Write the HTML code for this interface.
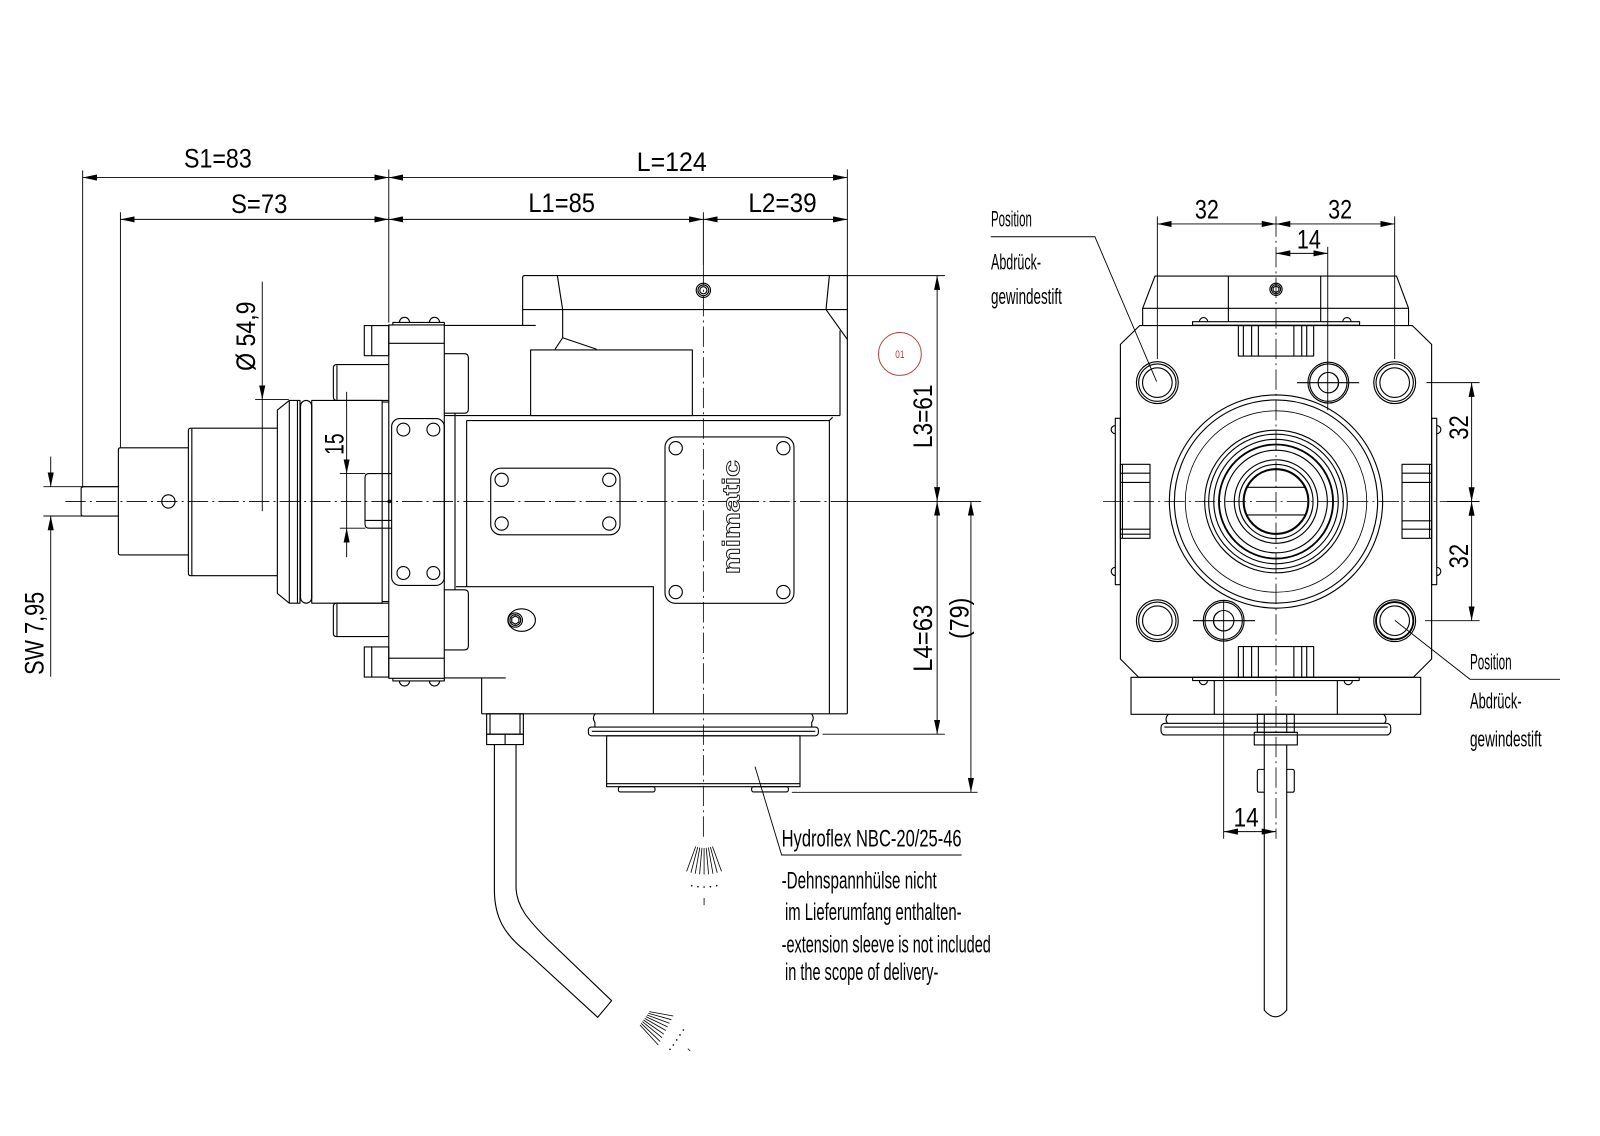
<!DOCTYPE html>
<html><head><meta charset="utf-8"><style>
html,body{margin:0;padding:0;background:#fff;}
svg{display:block}
text{font-family:"Liberation Sans",sans-serif;fill:#000;stroke:none}
</style></head><body>
<svg width="1600" height="1136" viewBox="0 0 1568 1113.3" xmlns="http://www.w3.org/2000/svg">
<defs>
<marker id="ar" viewBox="0 0 14 6" refX="14" refY="3" markerWidth="14" markerHeight="6" markerUnits="userSpaceOnUse" orient="auto-start-reverse"><path d="M0,0L14,3L0,6z" fill="#000" stroke="none"/></marker>
</defs>
<rect x="0" y="0" width="1568" height="1113.3" fill="#fff"/>

<!-- ============ DIMENSION LINES ============ -->
<g fill="none" stroke="#000" stroke-width="0.9">
<g marker-start="url(#ar)" marker-end="url(#ar)">
<line x1="81" y1="174" x2="381" y2="174"/>
<line x1="381" y1="174" x2="830.4" y2="174"/>
<line x1="118" y1="215" x2="381" y2="215"/>
<line x1="381" y1="215" x2="689.3" y2="215"/>
<line x1="689.3" y1="215" x2="830.4" y2="215"/>
<line x1="918.4" y1="270.1" x2="918.4" y2="491.4"/>
<line x1="918.4" y1="491.4" x2="918.4" y2="719.5"/>
<line x1="951.5" y1="491.4" x2="951.5" y2="776.5"/>
<line x1="1134.2" y1="219.5" x2="1250.5" y2="219.5"/>
<line x1="1250.5" y1="219.5" x2="1366.8" y2="219.5"/>
<line x1="1250.5" y1="248.3" x2="1301.2" y2="248.3"/>
<line x1="1442.2" y1="375" x2="1442.2" y2="491.5"/>
<line x1="1442.2" y1="491.5" x2="1442.2" y2="608.3"/>
<line x1="1199.2" y1="815" x2="1250.5" y2="815"/>
</g>
<!-- single arrows -->
<line x1="257" y1="276" x2="257" y2="391.6" marker-end="url(#ar)"/>
<line x1="257" y1="391.6" x2="257" y2="501"/>
<line x1="339.7" y1="384" x2="339.7" y2="464.1" marker-end="url(#ar)"/>
<line x1="339.7" y1="546" x2="339.7" y2="517.6" marker-end="url(#ar)"/>
<line x1="339.7" y1="464.1" x2="339.7" y2="517.6"/>
<line x1="49.7" y1="447.5" x2="49.7" y2="477" marker-end="url(#ar)"/>
<line x1="49.7" y1="663.2" x2="49.7" y2="505.7" marker-end="url(#ar)"/>
<!-- extension lines -->
<line x1="81" y1="167" x2="81" y2="478"/>
<line x1="118" y1="208" x2="118" y2="439"/>
<line x1="381" y1="166" x2="381" y2="316"/>
<line x1="689.3" y1="208" x2="689.3" y2="260"/>
<line x1="830.4" y1="166" x2="830.4" y2="270"/>
<line x1="250" y1="391.6" x2="283" y2="391.6"/>
<line x1="333" y1="464.1" x2="358" y2="464.1"/>
<line x1="333" y1="517.6" x2="358" y2="517.6"/>
<line x1="42.5" y1="477" x2="116" y2="477"/>
<line x1="42.5" y1="505.7" x2="116" y2="505.7"/>
<line x1="830.4" y1="270.1" x2="926" y2="270.1"/>
<line x1="830.4" y1="491.4" x2="961.6" y2="491.4"/>
<line x1="806" y1="719.5" x2="926" y2="719.5"/>
<line x1="776" y1="776.5" x2="958" y2="776.5"/>
<line x1="1134.2" y1="212" x2="1134.2" y2="352"/>
<line x1="1366.8" y1="212" x2="1366.8" y2="352"/>
<line x1="1301.2" y1="242" x2="1301.2" y2="402"/>
<line x1="1398" y1="375" x2="1450" y2="375"/>
<line x1="1418" y1="491.5" x2="1450" y2="491.5"/>
<line x1="1396.5" y1="608.3" x2="1450" y2="608.3"/>
<line x1="1199.2" y1="588" x2="1199.2" y2="822"/>
<!-- leaders -->
<polyline points="739.9,751.3 766,837.9 942.4,837.9"/>
<polyline points="971,232 1073,232 1133.5,374"/>
<polyline points="1367,608 1440.6,665.7 1528.8,665.7"/>
</g>

<!-- ============ CENTER LINES ============ -->
<g fill="none" stroke="#000" stroke-width="0.8" stroke-dasharray="20 4 2 4">
<line x1="64" y1="491.4" x2="830" y2="491.4"/>
<line x1="689.3" y1="260" x2="689.3" y2="822"/>
<line x1="1081" y1="491.5" x2="1418" y2="491.5"/>
<line x1="1250.5" y1="212" x2="1250.5" y2="822"/>
</g>

<!-- ============ LEFT VIEW GEOMETRY ============ -->
<g fill="none" stroke="#000" stroke-width="1.1" stroke-linejoin="round">
<!-- shaft -->
<path d="M116,477 L81.5,477 Q79.5,477 79.5,479 L79.5,503.7 Q79.5,505.7 81.5,505.7 L116,505.7"/>
<path d="M184.6,438.9 L118,438.9 Q116,438.9 116,441 L116,541.8 Q116,543.9 118,543.9 L184.6,543.9"/>
<circle cx="165" cy="491.4" r="6.5"/>
<path d="M271.8,419.6 L187,419.6 Q184.6,419.6 184.6,422 L184.6,561.8 Q184.6,564.2 187,564.2 L271.8,564.2"/>
<line x1="188" y1="420" x2="188" y2="564"/>
<polygon points="271.8,401.9 283.5,392.4 294,392.4 294,591.1 283.5,591.1 271.8,581.6"/>
<line x1="283.5" y1="392.4" x2="283.5" y2="591.1"/>
<line x1="291.5" y1="392.4" x2="291.5" y2="591.1"/>
<rect x="294.5" y="392.4" width="11" height="198.7" rx="5.5"/>
<rect x="305.5" y="392.4" width="69" height="198.7"/>
<line x1="374.4" y1="394" x2="381" y2="394"/>
<line x1="374.4" y1="589.5" x2="381" y2="589.5"/>
<!-- studs -->
<path d="M380.6,357.3 L330,357.3 Q326.7,357.3 326.7,360.6 L326.7,389.1 Q326.7,392.4 330,392.4 L380.6,392.4"/>
<line x1="330.2" y1="358" x2="330.2" y2="391.8"/>
<path d="M380.6,591.1 L330,591.1 Q326.7,591.1 326.7,594.4 L326.7,620.6 Q326.7,623.9 330,623.9 L380.6,623.9"/>
<line x1="330.2" y1="591.8" x2="330.2" y2="623.2"/>
<rect x="357" y="319" width="24" height="29.6"/>
<line x1="364.3" y1="319" x2="364.3" y2="348.6"/>
<rect x="357" y="634" width="24" height="29.5"/>
<line x1="364.3" y1="634" x2="364.3" y2="663.5"/>
<!-- flange -->
<rect x="381" y="318.5" width="54.4" height="346.3"/>
<line x1="381" y1="336.5" x2="435.4" y2="336.5"/>
<line x1="381" y1="645" x2="435.4" y2="645"/>
<path d="M385,318.5 L385,316 L435.4,316 L435.4,318.5"/>
<path d="M391.4,316 A5,5 0 0 1 401.4,316 M420.8,316 A5,5 0 0 1 430.8,316"/>
<path d="M385,664.8 L385,667.3 L435.4,667.3 L435.4,664.8"/>
<path d="M391.4,667.3 A5,5 0 0 0 401.4,667.3 M420.8,667.3 A5,5 0 0 0 430.8,667.3"/>
<rect x="383.8" y="410.2" width="51.6" height="163.5" rx="8"/>
<circle cx="395.3" cy="421" r="6.3"/><circle cx="424.7" cy="421" r="6.3"/>
<circle cx="395.3" cy="561.6" r="6.3"/><circle cx="424.7" cy="561.6" r="6.3"/>
<path d="M435.4,346.6 L455,346.6 Q459,346.6 459,350.6 L459,400.9 Q459,404.9 455,404.9 L435.4,404.9"/>
<path d="M435.4,578 L455,578 Q459,578 459,582 L459,633 Q459,637 455,637 L435.4,637"/>
<line x1="445.9" y1="404.9" x2="445.9" y2="578"/>
<line x1="457.3" y1="412.1" x2="457.3" y2="575"/>
<!-- pin 15 -->
<path d="M383.8,464.1 L361.7,464.1 Q357.7,464.1 357.7,468.1 L357.7,513.6 Q357.7,517.6 361.7,517.6 L383.8,517.6"/>
<line x1="358" y1="510" x2="383.8" y2="510"/>
<circle cx="381.5" cy="491.4" r="1.3"/>
<!-- top block -->
<path d="M512.2,318.9 L512.2,272.1 Q512.2,270.1 514.2,270.1 L830.4,270.1"/>
<line x1="512.2" y1="303.4" x2="830.4" y2="303.4"/>
<line x1="546.2" y1="270.1" x2="551.4" y2="303.4"/>
<line x1="812.8" y1="270.1" x2="809.5" y2="303.4"/>
<polyline points="551.4,303.4 551.4,331 543.9,342.3"/>
<line x1="551.4" y1="331" x2="584.7" y2="342.3"/>
<line x1="809.5" y1="303.4" x2="830.4" y2="332.7"/>
<line x1="823.2" y1="324.1" x2="823.2" y2="407.3"/>
<line x1="435.4" y1="318.9" x2="525" y2="318.9"/>
<rect x="520" y="343" width="158.5" height="64.3"/>
<line x1="435.4" y1="407.3" x2="823.2" y2="407.3"/>
<polyline points="457.3,412.1 812.8,412.1 816,409"/>
<line x1="812.8" y1="412.1" x2="812.8" y2="699.5"/>
<line x1="830.4" y1="270.1" x2="830.4" y2="699.5"/>
<circle cx="689.3" cy="284.5" r="7"/><circle cx="689.3" cy="284.5" r="5.3"/><circle cx="689.3" cy="284.5" r="3.5"/>
<!-- plates -->
<rect x="480.9" y="458.8" width="126.7" height="65.3" rx="10"/>
<circle cx="491.6" cy="470.2" r="6.5"/><circle cx="597.1" cy="470.2" r="6.5"/>
<circle cx="491.6" cy="513.1" r="6.5"/><circle cx="597.1" cy="513.1" r="6.5"/>
<rect x="651.7" y="428.2" width="126.4" height="163" rx="10"/>
<circle cx="662.2" cy="439.2" r="6.5"/><circle cx="767.7" cy="439.2" r="6.5"/>
<circle cx="662.2" cy="580.2" r="6.5"/><circle cx="767.7" cy="580.2" r="6.5"/>
<!-- lower -->
<polyline points="446.9,575 640.3,575 640.3,699.5"/>
<polyline points="435.4,664.4 495.6,664.4"/>
<line x1="472" y1="664.4" x2="472" y2="699.5"/>
<line x1="472" y1="699.5" x2="830.4" y2="699.5"/>
<ellipse cx="511.2" cy="607.7" rx="13.5" ry="11"/>
<circle cx="505" cy="607.7" r="7"/><circle cx="505" cy="607.7" r="5.3"/>
<polygon points="505,603.7 508.5,605.7 508.5,609.7 505,611.7 501.5,609.7 501.5,605.7"/>
<!-- fitting & cable -->
<rect x="476.9" y="699.5" width="36" height="20"/>
<line x1="480.2" y1="699.5" x2="480.2" y2="719.5"/>
<line x1="509.6" y1="699.5" x2="509.6" y2="719.5"/>
<rect x="476.9" y="719.5" width="36" height="10.2"/>
<line x1="495" y1="719.5" x2="495" y2="729.7"/>
<path d="M484.5,729.7 L484.5,872 C484.5,900 495,916 515,932 L585.7,997 L599.4,980.7 L536,920 C518,902 505.7,888 505.7,869 L505.7,729.7"/>
<!-- bottom collar -->
<path d="M583.1,699.5 Q580,704 583,708 L583,712.5 M795.4,699.5 Q798.5,704 795.5,708 L795.5,712.5"/>
<rect x="576.6" y="712.5" width="225.4" height="8.6" rx="3"/>
<line x1="580" y1="716.7" x2="799" y2="716.7"/>
<rect x="594.5" y="721.1" width="189.5" height="49.9"/>
<line x1="594.5" y1="768" x2="784" y2="768"/>
<rect x="606" y="771" width="35.9" height="5.1" rx="2"/>
<rect x="736.6" y="771" width="36" height="5.1" rx="2"/>
</g>
<!-- spray fans -->
<g stroke="#000" stroke-width="0.8" fill="none">
<line x1="681.8" y1="829.6" x2="672.9" y2="854"/>
<line x1="683.8" y1="830.2" x2="677.1" y2="855.3"/>
<line x1="685.8" y1="830.6" x2="681.3" y2="856.2"/>
<line x1="687.9" y1="830.9" x2="685.6" y2="856.8"/>
<line x1="690" y1="831" x2="690" y2="857"/>
<line x1="692.1" y1="830.9" x2="694.4" y2="856.8"/>
<line x1="694.2" y1="830.6" x2="698.7" y2="856.2"/>
<line x1="696.2" y1="830.2" x2="702.9" y2="855.3"/>
<line x1="698.2" y1="829.6" x2="707.1" y2="854"/>
<line x1="690" y1="880" x2="690" y2="887"/>
<line x1="636.3" y1="991.4" x2="659.8" y2="995.7"/>
<line x1="635.2" y1="993" x2="658" y2="999.3"/>
<line x1="634" y1="994.7" x2="656.1" y2="1002.8"/>
<line x1="632.9" y1="996.3" x2="654.3" y2="1006.4"/>
<line x1="631.8" y1="998" x2="652.5" y2="1009.9"/>
<line x1="630.6" y1="999.6" x2="650.6" y2="1013.5"/>
<line x1="629.5" y1="1001.2" x2="648.8" y2="1017"/>
<line x1="628.3" y1="1002.9" x2="646.9" y2="1020.6"/>
<line x1="627.2" y1="1004.5" x2="645.1" y2="1024.1"/>
<line x1="674.1" y1="1027.8" x2="676.4" y2="1030"/>
</g>
<g fill="#000">
<circle cx="677.9" cy="868" r="0.8"/><circle cx="684" cy="869" r="0.8"/><circle cx="690" cy="869.3" r="0.8"/><circle cx="696.2" cy="869" r="0.8"/><circle cx="702.4" cy="868" r="0.8"/>
<circle cx="669.7" cy="1009.4" r="0.8"/><circle cx="666.4" cy="1014.3" r="0.8"/><circle cx="663.2" cy="1019.2" r="0.8"/><circle cx="659.9" cy="1024.1" r="0.8"/><circle cx="656.6" cy="1028.3" r="0.8"/>
</g>

<!-- ============ RIGHT VIEW GEOMETRY ============ -->
<g fill="none" stroke="#000" stroke-width="1.1" stroke-linejoin="round">
<path d="M1119.8,318.5 L1119.8,302.2 L1131.9,270.5 L1368.6,270.5 L1380.4,302.2 L1380.4,318.5"/>
<line x1="1119.8" y1="302.2" x2="1380.4" y2="302.2"/>
<line x1="1203.8" y1="270.5" x2="1203.8" y2="315.2"/>
<line x1="1294.3" y1="270.5" x2="1294.3" y2="315.2"/>
<circle cx="1250.5" cy="283.5" r="6"/><circle cx="1250.5" cy="283.5" r="4.5"/>
<polygon points="1250.5,280.3 1253.3,281.9 1253.3,285.1 1250.5,286.7 1247.7,285.1 1247.7,281.9"/>
<rect x="1168.7" y="315.2" width="163.7" height="3.5"/>
<path d="M1175.5,315.2 A4,4 0 0 1 1183.5,315.2 M1316,315.2 A4,4 0 0 1 1324,315.2"/>
<!-- square -->
<path d="M1117,319 L1384,319 L1403,337.5 L1403,645.8 L1385,663.8 L1116,663.8 L1098,645.8 L1098,337.5 Z"/>
<!-- key slots -->
<rect x="1213.6" y="319" width="73.8" height="29.9"/>
<line x1="1218.5" y1="319" x2="1218.5" y2="348.9"/><line x1="1226.6" y1="319" x2="1226.6" y2="348.9"/><line x1="1233.2" y1="319" x2="1233.2" y2="348.9"/>
<line x1="1268" y1="319" x2="1268" y2="348.9"/><line x1="1275.7" y1="319" x2="1275.7" y2="348.9"/><line x1="1280.6" y1="319" x2="1280.6" y2="348.9"/>
<rect x="1213.6" y="633.7" width="73.8" height="30.1"/>
<line x1="1218.5" y1="633.7" x2="1218.5" y2="663.8"/><line x1="1226.6" y1="633.7" x2="1226.6" y2="663.8"/><line x1="1233.2" y1="633.7" x2="1233.2" y2="663.8"/>
<line x1="1268" y1="633.7" x2="1268" y2="663.8"/><line x1="1275.7" y1="633.7" x2="1275.7" y2="663.8"/><line x1="1280.6" y1="633.7" x2="1280.6" y2="663.8"/>
<rect x="1098" y="455" width="29" height="72.6"/>
<line x1="1100" y1="455" x2="1100" y2="527.6"/>
<line x1="1098" y1="463.7" x2="1127" y2="463.7"/><line x1="1098" y1="472.8" x2="1127" y2="472.8"/>
<line x1="1098" y1="518.6" x2="1127" y2="518.6"/><line x1="1098" y1="523.5" x2="1127" y2="523.5"/>
<rect x="1374" y="455" width="29" height="72.6"/>
<line x1="1401" y1="455" x2="1401" y2="527.6"/>
<line x1="1374" y1="463.7" x2="1403" y2="463.7"/><line x1="1374" y1="472.8" x2="1403" y2="472.8"/>
<line x1="1374" y1="510.4" x2="1403" y2="510.4"/><line x1="1374" y1="518.6" x2="1403" y2="518.6"/>
<rect x="1093" y="410" width="5" height="163"/>
<path d="M1093,417 A4,4 0 0 0 1093,425 M1093,556 A4,4 0 0 0 1093,564"/>
<rect x="1403" y="410" width="5" height="163"/>
<path d="M1408,417 A4,4 0 0 1 1408,425 M1408,556 A4,4 0 0 1 1408,564"/>
<!-- holes -->
<g>
<circle cx="1134.2" cy="375" r="20.5"/><circle cx="1134.2" cy="375" r="18.3"/><circle cx="1134.2" cy="375" r="14.5"/>
<circle cx="1366.8" cy="375" r="20.5"/><circle cx="1366.8" cy="375" r="18.3"/><circle cx="1366.8" cy="375" r="14.5"/>
<circle cx="1134.2" cy="608.3" r="20.5"/><circle cx="1134.2" cy="608.3" r="18.3"/><circle cx="1134.2" cy="608.3" r="14.5"/>
<circle cx="1366.8" cy="608.3" r="20.5"/><circle cx="1366.8" cy="608.3" r="18.3" stroke-width="1.8"/><circle cx="1366.8" cy="608.3" r="14.5"/>
<circle cx="1301.8" cy="375" r="20"/><circle cx="1301.8" cy="375" r="18.3"/><circle cx="1301.8" cy="375" r="10"/>
<path d="M1307,366.5 A10,10 0 0 1 1307,383.5"/>
<line x1="1271" y1="375" x2="1332" y2="375"/>
<circle cx="1199.2" cy="608.3" r="20"/><circle cx="1199.2" cy="608.3" r="18.3"/><circle cx="1199.2" cy="608.3" r="10"/>
<path d="M1194,599.8 A10,10 0 0 0 1194,616.8"/>
<line x1="1169" y1="608.3" x2="1230" y2="608.3"/>
</g>
<!-- central circles -->
<circle cx="1250.5" cy="491.5" r="104.5"/>
<circle cx="1250.5" cy="491.5" r="99.6"/>
<circle cx="1250.5" cy="491.5" r="88.9" stroke-width="0.8"/>
<circle cx="1250.5" cy="491.5" r="69.9"/>
<circle cx="1250.5" cy="491.5" r="66"/>
<circle cx="1250.5" cy="491.5" r="61"/>
<circle cx="1250.5" cy="491.5" r="55.9" stroke-width="1.8"/>
<circle cx="1250.5" cy="491.5" r="50.3"/>
<circle cx="1250.5" cy="491.5" r="40.9"/>
<circle cx="1250.5" cy="491.5" r="36.3"/>
<circle cx="1250.5" cy="491.5" r="31.7" stroke-width="2"/>
<line x1="1222" y1="477.6" x2="1279" y2="477.6"/>
<line x1="1222" y1="504.7" x2="1279" y2="504.7"/>
<!-- lower part -->
<rect x="1108.4" y="663.8" width="283.9" height="36.2"/>
<rect x="1168.8" y="663.8" width="163.2" height="3.2"/>
<path d="M1175.3,667 A4,4 0 0 0 1183.3,667 M1317.3,667 A4,4 0 0 0 1325.3,667"/>
<line x1="1190" y1="667" x2="1190" y2="700"/>
<line x1="1310.6" y1="667" x2="1310.6" y2="700"/>
<path d="M1145,700 Q1141,704.5 1144,708.8 M1356,700 Q1360,704.5 1357,708.8"/>
<rect x="1137.8" y="708.8" width="225.1" height="11.5" rx="4"/>
<line x1="1141" y1="712.5" x2="1360" y2="712.5"/>
<rect x="1232.2" y="700" width="36.2" height="17.7"/>
<line x1="1239" y1="700" x2="1239" y2="717.7"/><line x1="1261" y1="700" x2="1261" y2="717.7"/>
<rect x="1229.2" y="717.7" width="42.2" height="12.4"/>
<line x1="1239" y1="717.7" x2="1239" y2="730.1"/>
<path d="M1239,730.1 L1239,990 Q1250,1003 1261,990 L1261,730.1"/>
<path d="M1239,754 L1234.2,754 Q1232.2,754 1232.2,756 L1232.2,774.4 Q1232.2,776.4 1234.2,776.4 L1239,776.4"/>
<path d="M1261,754 L1266.4,754 Q1268.4,754 1268.4,756 L1268.4,774.4 Q1268.4,776.4 1266.4,776.4 L1261,776.4"/>
</g>

<!-- red circle -->
<circle cx="881.9" cy="346.9" r="21" fill="none" stroke="#b04848" stroke-width="1"/>
<text x="881.9" y="351" font-size="11" text-anchor="middle" style="fill:#a04040" textLength="9" lengthAdjust="spacingAndGlyphs">01</text>

<!-- mimatic -->
<text transform="translate(724.5,506.8) rotate(-90)" text-anchor="middle" font-size="24" font-weight="bold" textLength="112" lengthAdjust="spacingAndGlyphs" style="fill:#fff;stroke:#000;stroke-width:0.8">mimatic</text>

<!-- ============ TEXT ============ -->
<g font-size="26">
<text x="180.3" y="164.2" textLength="66.4" lengthAdjust="spacingAndGlyphs">S1=83</text>
<text x="624" y="167.5" textLength="68.6" lengthAdjust="spacingAndGlyphs">L=124</text>
<text x="226.4" y="208.6" textLength="55.2" lengthAdjust="spacingAndGlyphs">S=73</text>
<text x="517.8" y="207.8" textLength="65.3" lengthAdjust="spacingAndGlyphs">L1=85</text>
<text x="733.4" y="207.8" textLength="67" lengthAdjust="spacingAndGlyphs">L2=39</text>
<text transform="translate(250,329.5) rotate(-90)" text-anchor="middle" textLength="68" lengthAdjust="spacingAndGlyphs">Ø 54,9</text>
<text transform="translate(336.4,435.3) rotate(-90)" text-anchor="middle" textLength="21" lengthAdjust="spacingAndGlyphs">15</text>
<text transform="translate(42.5,620.7) rotate(-90)" text-anchor="middle" textLength="81.5" lengthAdjust="spacingAndGlyphs">SW 7,95</text>
<text transform="translate(913.3,408) rotate(-90)" text-anchor="middle" textLength="62.4" lengthAdjust="spacingAndGlyphs">L3=61</text>
<text transform="translate(913.3,625.5) rotate(-90)" text-anchor="middle" textLength="65.8" lengthAdjust="spacingAndGlyphs">L4=63</text>
<text transform="translate(949,606) rotate(-90)" text-anchor="middle" textLength="40.5" lengthAdjust="spacingAndGlyphs">(79)</text>
<text x="1171" y="214" textLength="23.5" lengthAdjust="spacingAndGlyphs">32</text>
<text x="1301.6" y="214" textLength="23.5" lengthAdjust="spacingAndGlyphs">32</text>
<text x="1270.9" y="243.4" textLength="23.5" lengthAdjust="spacingAndGlyphs">14</text>
<text transform="translate(1438.5,419) rotate(-90)" text-anchor="middle" textLength="24" lengthAdjust="spacingAndGlyphs">32</text>
<text transform="translate(1438.5,545) rotate(-90)" text-anchor="middle" textLength="24" lengthAdjust="spacingAndGlyphs">32</text>
<text x="1209" y="810" textLength="24.5" lengthAdjust="spacingAndGlyphs">14</text>
</g>
<g font-size="24">
<text x="766" y="829.7" textLength="176.4" lengthAdjust="spacingAndGlyphs">Hydroflex NBC-20/25-46</text>
<text x="766" y="870.6" textLength="152" lengthAdjust="spacingAndGlyphs">-Dehnspannhülse nicht</text>
<text x="769.3" y="901.6" textLength="173" lengthAdjust="spacingAndGlyphs">im Lieferumfang enthalten-</text>
<text x="766" y="933.5" textLength="205" lengthAdjust="spacingAndGlyphs">-extension sleeve is not included</text>
<text x="769.3" y="960.4" textLength="150.3" lengthAdjust="spacingAndGlyphs">in the scope of delivery-</text>
</g>
<g font-size="22">
<text x="971.2" y="222" textLength="40" lengthAdjust="spacingAndGlyphs">Position</text>
<text x="971.2" y="264" textLength="49" lengthAdjust="spacingAndGlyphs">Abdrück-</text>
<text x="971.2" y="298" textLength="69.4" lengthAdjust="spacingAndGlyphs">gewindestift</text>
<text x="1440.6" y="656" textLength="40.8" lengthAdjust="spacingAndGlyphs">Position</text>
<text x="1440.6" y="694.2" textLength="50.6" lengthAdjust="spacingAndGlyphs">Abdrück-</text>
<text x="1440.6" y="731.7" textLength="70.2" lengthAdjust="spacingAndGlyphs">gewindestift</text>
</g>
</svg>
</body></html>
